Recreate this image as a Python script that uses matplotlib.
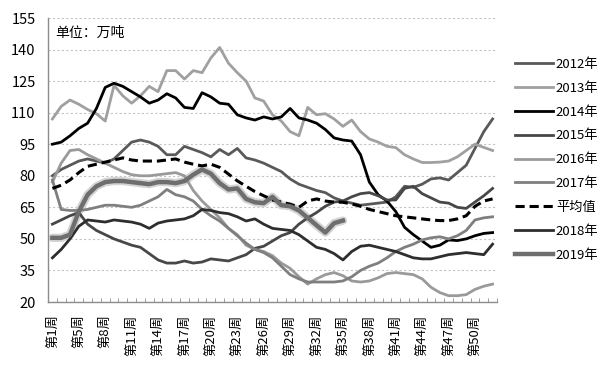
import matplotlib
matplotlib.use('Agg')
import matplotlib.pyplot as plt

plt.rcParams['font.family'] = ['Noto Sans CJK SC', 'DejaVu Sans']

# categories (week 4 is missing in the source)
weeks = [1, 2, 3] + list(range(5, 53))
week_labels = ['第%d周' % w for w in weeks]

y2012 = [80, 83, 85, 87, 88, 87, 86, 88, 92, 96,
         97, 96, 94, 90, 90, 94, 92.5, 91, 89, 92.5,
         90, 93, 88.5, 87.5, 86, 84, 82, 78.5, 76, 74.5,
         73, 72, 69.5, 68, 67, 66, 66.5, 67, 67.5, 70,
         75, 74.5, 76, 78.5, 79, 78, 81.5, 85, 93, 101,
         107]
y2013 = [107, 113, 116, 114, 111.5, 109.5, 106, 123, 118, 114.5,
         118, 122.5, 120, 130, 130, 126, 130, 129, 136, 141,
         133.5, 129, 125, 117, 115.5, 109, 106, 101, 99, 112.5,
         109, 109.5, 107, 103.5, 106.5, 101, 97.5, 96, 94, 93.4,
         90, 88, 86.3, 86.3, 86.5, 87, 89, 92, 95, 93.5,
         92]
y2014 = [95, 96, 99, 102.5, 105, 112, 122, 124, 122.5, 120,
         117.5, 114.5, 116, 119, 117, 112.5, 112, 119.5, 117.5, 114.5,
         114, 109, 107.5, 106.5, 108, 107, 108, 112, 107.5, 106.5,
         105, 102, 98, 97, 96.5, 90, 77, 71, 68, 63,
         55.5, 52, 49, 46, 47, 49.5, 49.2, 50, 51.5, 52.6,
         53]
y2015 = [57, 59, 61, 62.5, 57, 54, 52, 50, 48.5, 47,
         46, 43, 40, 38.5, 38.5, 39.5, 38.5, 39, 40.5, 40,
         39.5, 41, 42.5, 45.5, 46.5, 49, 51.5, 53, 57, 60,
         62.5, 65.5, 67.5, 68, 70, 71.5, 72, 70.5, 68.5, 68.5,
         74, 75, 71.5, 69.5, 67.5, 67, 65, 64.5, 67.5, 70.5,
         74]
y2016 = [77, 86, 92, 92.5, 90, 88, 86, 84, 82, 80.5,
         80, 80, 80.5, 81, 81.5, 80, 73, 68, 64, 60,
         55, 52, 47, 45, 44, 42, 38.5, 36, 32, 28.5,
         31, 33, 34, 32.5, 30, 29.5, 30, 31.5, 33.5, 34,
         33.5, 33, 31, 27, 24.5, 23, 23, 23.5, 26, 27.5,
         28.5]
y2017 = [78, 64, 63.5, 63.5, 64, 65, 66, 66, 65.5, 65,
         66, 68, 70, 73.5, 71, 70, 68, 64, 61, 58.5,
         55, 51.5, 48, 45, 43.5, 41, 37, 33, 31, 29.5,
         29.5, 29.5, 29.5, 30, 32, 35, 37, 38.5, 41, 44,
         46, 47.5, 49.5, 50.5, 51, 50, 51.5, 54, 59, 60,
         60.5]
y_avg = [74, 75.5, 78, 81.5, 84.5, 85.5, 86.5, 87.5, 88.5, 87.5,
         87, 87, 87, 87.5, 88, 86.5, 85.5, 84.7, 85.5, 84,
         80.8, 77.6, 75, 72.5, 70.5, 68.5, 67.5, 66.5, 65, 68,
         69, 68, 67.5, 67.4, 66.6, 65.5, 64, 63, 62, 61,
         60.5, 60, 59.5, 59, 58.7, 58.7, 59.5, 61, 65.5, 68,
         69]
y2018 = [41, 45, 50, 56, 59, 58.5, 58, 59, 58.5, 58,
         57, 55, 57.5, 58.5, 59, 59.5, 61, 64, 63.5, 62.5,
         62, 60.5, 58.5, 59.5, 57, 55, 54.5, 54, 52, 49,
         46, 45, 43, 40, 44, 46.5, 47, 46, 45, 44,
         42.5, 41, 40.5, 40.5, 41.5, 42.5, 43, 43.5, 43, 42.5,
         47.5]
y2019 = [50.5, 50.5, 52, 63, 71, 75, 77, 77.5, 77.5, 77,
         76.5, 76, 77, 77, 76.5, 77.5, 80.5, 83, 81, 76.5,
         73.5, 74, 69, 67.4, 67, 70, 66, 65.5, 63.5, 60,
         56.5, 53, 57.5, 58.7]

labels = ['2012年', '2013年', '2014年', '2015年', '2016年', '2017年', '平均值', '2018年', '2019年']
data = [y2012, y2013, y2014, y2015, y2016, y2017, y_avg, y2018, y2019]
colors = ['#595959', '#a0a0a0', '#000000', '#474747', '#9a9a9a', '#7f7f7f', '#000000', '#2e2e2e', '#6e6e6e']
widths = [2.0, 2.0, 2.0, 2.0, 2.0, 2.0, 2.2, 2.0, 3.2]


def plot_chart():
    fig = plt.figure(figsize=(6.1, 3.69), dpi=100)
    ax = fig.add_axes([48 / 610, 1 - 302 / 369, 449 / 610, 284 / 369])

    handles = []
    for vals, lab, c, w in zip(data, labels, colors, widths):
        xs = range(len(vals))
        if lab == '2019年':
            ax.plot(xs, vals, color='#d4d4d4', lw=6, solid_capstyle='round', zorder=2)
        if lab == '平均值':
            ln, = ax.plot(xs, vals, color=c, lw=w, dashes=(3, 1.6), zorder=3)
        else:
            ln, = ax.plot(xs, vals, color=c, lw=w, zorder=3)
        handles.append(ln)

    ax.set_xlim(-0.5, len(weeks) - 0.5)
    ax.set_ylim(20, 155)
    ax.set_yticks(range(20, 156, 15))
    ax.grid(axis='y', color='#c4c4c4', linestyle=(0, (2, 2)), linewidth=0.8)
    ax.set_axisbelow(True)

    for s in ['top', 'right']:
        ax.spines[s].set_visible(False)
    for s in ['left', 'bottom']:
        ax.spines[s].set_color('#8c8c8c')
        ax.spines[s].set_linewidth(1.0)

    ax.set_xticks(range(0, len(weeks), 3))
    ax.set_xticklabels(week_labels[::3], rotation=90, fontsize=9.5)
    ax.set_xticks([i - 0.5 for i in range(len(weeks) + 1)], minor=True)
    ax.tick_params(axis='x', which='major', length=0, pad=9)
    ax.tick_params(axis='x', which='minor', direction='in', length=3, color='#8c8c8c')
    ax.tick_params(axis='y', length=0, labelsize=10.5, pad=9)

    ax.text(0.016, 0.947, '单位：万吨', transform=ax.transAxes, fontsize=10,
            va='center', ha='left')

    ax.legend(handles, labels, loc='upper left', bbox_to_anchor=(515 / 610, 1 - 58 / 369),
              bbox_transform=fig.transFigure, frameon=False, fontsize=9.5,
              handlelength=2.9, handletextpad=0.2, labelspacing=0.82,
              borderpad=0, borderaxespad=0)

    fig.savefig('out.png', dpi=100)


def main():
    plot_chart()

main()
